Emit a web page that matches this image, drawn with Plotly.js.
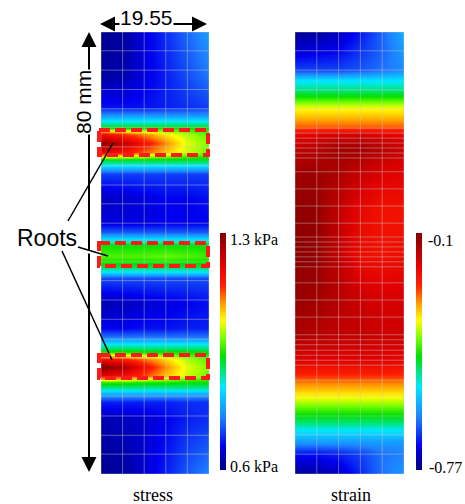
<!DOCTYPE html>
<html><head><meta charset="utf-8">
<script src="https://cdn.plot.ly/plotly-3.0.1.min.js"></script>
<style>html,body{margin:0;padding:0;background:#fff}#chart{width:465px;height:504px}</style>
</head><body><div id="chart"></div>
<script>
// ---- data (mm / kPa / strain) ----
const xNodes = [0, 3.91, 7.82, 11.73, 15.64, 19.55];

const stressY = [0, 5, 10, 13, 14.5, 15.6, 16.6, 17.8, 19.3, 20.8, 22, 23.3, 24.8, 26.5, 31, 35.5, 36.6, 37.8, 39.5, 41.3, 42.5, 43.8, 45.5, 50, 54.3, 55.6, 56.8, 58.2, 60, 61.5, 62.6, 63.8, 65, 66.5, 72, 80];
const stressZ = [
  [0.61, 0.62, 0.65, 0.69, 0.73, 0.76],
  [0.62, 0.63, 0.65, 0.68, 0.71, 0.73],
  [0.63, 0.64, 0.65, 0.67, 0.69, 0.70],
  [0.69, 0.69, 0.69, 0.69, 0.70, 0.70],
  [0.79, 0.79, 0.79, 0.79, 0.79, 0.79],
  [0.88, 0.88, 0.88, 0.88, 0.88, 0.88],
  [0.96, 0.96, 0.95, 0.95, 0.94, 0.94],
  [1.20, 1.17, 1.13, 1.07, 1.02, 0.98],
  [1.30, 1.26, 1.18, 1.10, 1.03, 0.99],
  [1.18, 1.15, 1.11, 1.06, 1.01, 0.97],
  [0.95, 0.95, 0.94, 0.94, 0.94, 0.93],
  [0.86, 0.86, 0.86, 0.86, 0.86, 0.86],
  [0.75, 0.75, 0.75, 0.75, 0.75, 0.75],
  [0.67, 0.67, 0.68, 0.68, 0.69, 0.69],
  [0.63, 0.64, 0.65, 0.66, 0.67, 0.68],
  [0.72, 0.72, 0.72, 0.72, 0.72, 0.72],
  [0.84, 0.84, 0.84, 0.84, 0.84, 0.84],
  [0.93, 0.93, 0.93, 0.93, 0.93, 0.93],
  [0.97, 0.97, 0.97, 0.98, 0.97, 0.96],
  [0.94, 0.94, 0.94, 0.94, 0.94, 0.94],
  [0.84, 0.84, 0.84, 0.84, 0.84, 0.84],
  [0.73, 0.73, 0.73, 0.73, 0.73, 0.73],
  [0.66, 0.66, 0.66, 0.67, 0.67, 0.67],
  [0.64, 0.65, 0.66, 0.67, 0.67, 0.68],
  [0.71, 0.71, 0.71, 0.71, 0.71, 0.71],
  [0.82, 0.82, 0.82, 0.82, 0.82, 0.82],
  [0.92, 0.92, 0.92, 0.92, 0.92, 0.92],
  [1.20, 1.17, 1.12, 1.07, 1.02, 0.98],
  [1.28, 1.24, 1.17, 1.10, 1.03, 0.99],
  [1.18, 1.14, 1.10, 1.05, 1.01, 0.97],
  [0.94, 0.94, 0.94, 0.94, 0.94, 0.94],
  [0.86, 0.86, 0.86, 0.86, 0.86, 0.86],
  [0.77, 0.77, 0.77, 0.77, 0.77, 0.77],
  [0.68, 0.68, 0.68, 0.69, 0.70, 0.71],
  [0.62, 0.63, 0.66, 0.69, 0.72, 0.75],
  [0.61, 0.62, 0.66, 0.70, 0.74, 0.78]
];

const strainY = [0, 3.8, 5.8, 8, 9.2, 11, 13.9, 16.5, 18.3, 20.6, 25, 32, 40, 48, 55, 59, 61.5, 62.8, 64.4, 66.2, 68.2, 69.5, 71.3, 73.1, 76.6, 80];
const strainZ = [
  [-0.76, -0.75, -0.73, -0.68, -0.63, -0.60],
  [-0.69, -0.69, -0.68, -0.66, -0.63, -0.62],
  [-0.60, -0.60, -0.60, -0.60, -0.60, -0.60],
  [-0.535, -0.535, -0.535, -0.535, -0.535, -0.535],
  [-0.49, -0.49, -0.49, -0.49, -0.49, -0.49],
  [-0.44, -0.44, -0.44, -0.44, -0.44, -0.44],
  [-0.35, -0.35, -0.35, -0.35, -0.35, -0.35],
  [-0.29, -0.29, -0.29, -0.29, -0.29, -0.29],
  [-0.24, -0.24, -0.24, -0.24, -0.24, -0.24],
  [-0.19, -0.19, -0.19, -0.19, -0.19, -0.20],
  [-0.14, -0.15, -0.16, -0.16, -0.17, -0.17],
  [-0.12, -0.13, -0.15, -0.17, -0.18, -0.18],
  [-0.11, -0.12, -0.16, -0.21, -0.22, -0.21],
  [-0.11, -0.12, -0.16, -0.20, -0.22, -0.22],
  [-0.13, -0.13, -0.14, -0.16, -0.18, -0.19],
  [-0.16, -0.15, -0.13, -0.13, -0.15, -0.17],
  [-0.20, -0.19, -0.18, -0.18, -0.19, -0.20],
  [-0.27, -0.27, -0.27, -0.27, -0.27, -0.27],
  [-0.31, -0.31, -0.31, -0.31, -0.31, -0.31],
  [-0.35, -0.35, -0.35, -0.35, -0.35, -0.35],
  [-0.44, -0.44, -0.44, -0.44, -0.44, -0.44],
  [-0.49, -0.49, -0.49, -0.49, -0.49, -0.49],
  [-0.54, -0.54, -0.54, -0.54, -0.54, -0.54],
  [-0.66, -0.66, -0.66, -0.65, -0.63, -0.61],
  [-0.72, -0.71, -0.70, -0.67, -0.64, -0.60],
  [-0.76, -0.75, -0.73, -0.69, -0.64, -0.58]
];

const stressMeshY = [0, 3.6, 7.0, 10.5, 14.1, 17.5, 21.0, 24.4, 28.0, 31.5, 35.0, 38.4, 42.0, 45.4, 48.9, 52.3, 55.8, 59.2, 62.7, 66.1, 69.6, 73.1, 76.6, 80];
const strainMeshY = [0, 3.6, 7.1, 10.5, 14.1, 17.0, 19.7, 20.6, 21.5, 22.4, 23.4, 24.3, 25.2, 28.4, 31.5, 34.6, 37.5, 38.4, 39.3, 40.2, 41.1, 42.0, 42.9, 45.4, 48.5, 51.6, 54.7, 57.2, 58.1, 59.0, 59.9, 60.8, 61.7, 62.6, 66.1, 69.5, 73.1, 76.6, 80];

const stressRange = [0.6, 1.3];
const strainRange = [-0.77, -0.1];
const stressLabels = ['1.3 kPa', '0.6 kPa'];
const strainLabels = ['-0.1', '-0.77'];
const panelTitles = ['stress', 'strain'];
const dimWidth = '19.55';
const dimHeight = '80 mm';
const rootLabel = 'Roots';

// ---- styling ----
const W = 465, H = 504;
const px = v => v / W;
const py = v => 1 - v / H;

const cs = [
  [0, '#000080'], [0.1, '#0000ee'], [0.22, '#1e7fff'], [0.35, '#00e8ff'],
  [0.48, '#00e000'], [0.56, '#80ff00'], [0.63, '#ffff00'], [0.7, '#ffa000'],
  [0.78, '#ff2000'], [0.87, '#e00000'], [1, '#800000']
];

function meshTrace(mx, my, xa, ya) {
  const xs = [], ys = [];
  const x0 = mx[0], x1 = mx[mx.length - 1], y0 = my[0], y1 = my[my.length - 1];
  mx.forEach(x => { xs.push(x, x, null); ys.push(y0, y1, null); });
  my.forEach(y => { xs.push(x0, x1, null); ys.push(y, y, null); });
  return { type: 'scatter', mode: 'lines', x: xs, y: ys, xaxis: xa, yaxis: ya,
    line: { color: 'rgba(200,200,200,0.45)', width: 1 }, hoverinfo: 'skip', showlegend: false };
}

const cbCommon = { thickness: 6, thicknessmode: 'pixels', len: 237, lenmode: 'pixels',
  y: py(351.5), yanchor: 'middle', xanchor: 'left', xpad: 0, ypad: 0,
  outlinewidth: 0, showticklabels: false, ticks: '' };

const data = [
  { type: 'heatmap', x: xNodes, y: stressY, z: stressZ, zmin: stressRange[0], zmax: stressRange[1],
    colorscale: cs, zsmooth: 'best', xaxis: 'x', yaxis: 'y',
    colorbar: Object.assign({}, cbCommon, { x: px(220) }) },
  { type: 'heatmap', x: xNodes, y: strainY, z: strainZ, zmin: strainRange[0], zmax: strainRange[1],
    colorscale: cs, zsmooth: 'best', xaxis: 'x2', yaxis: 'y2',
    colorbar: Object.assign({}, cbCommon, { x: px(416) }) },
  meshTrace(xNodes, stressMeshY, 'x', 'y'),
  meshTrace(xNodes, strainMeshY, 'x2', 'y2')
];

const ax = (dom, rng, anchor) => ({ domain: dom, range: rng, visible: false, showgrid: false,
  zeroline: false, fixedrange: true, anchor: anchor });

const serif = 'Liberation Serif, Times New Roman, serif';
const sans = 'Liberation Sans, Arial, sans-serif';

function arrow(tx, ty, dx, dy) {
  return { x: px(tx), y: py(ty), xref: 'paper', yref: 'paper', ax: dx, ay: dy,
    axref: 'pixel', ayref: 'pixel', text: '', showarrow: true, arrowhead: 2,
    arrowsize: 1.5, arrowwidth: 2, arrowcolor: '#000', standoff: 0, startstandoff: 0 };
}
function label(text, x, y, font, opts) {
  return Object.assign({ x: px(x), y: py(y), xref: 'paper', yref: 'paper', text: text,
    showarrow: false, font: font, xanchor: 'center', yanchor: 'middle' }, opts || {});
}

const annotations = [
  arrow(100, 24, 54, 0), arrow(207, 24, -53, 0),
  arrow(89, 32, 0, 220), arrow(89, 472, 0, -220),
  label(dimWidth, 146, 17.5, { family: sans, size: 21, color: '#000' }, { bgcolor: '#fff', borderpad: 0 }),
  label(dimHeight, 84, 102, { family: sans, size: 21, color: '#000' }, { bgcolor: '#fff', borderpad: 0, textangle: -90 }),
  label(rootLabel, 46.5, 238, { family: sans, size: 23, color: '#000' }),
  label(stressLabels[0], 228, 239, { family: serif, size: 16, color: '#000' }, { xanchor: 'left' }),
  label(stressLabels[1], 228, 466, { family: serif, size: 16, color: '#000' }, { xanchor: 'left' }),
  label(strainLabels[0], 426, 240, { family: serif, size: 16, color: '#000' }, { xanchor: 'left' }),
  label(strainLabels[1], 427, 467, { family: serif, size: 16, color: '#000' }, { xanchor: 'left' }),
  label(panelTitles[0], 153, 495, { family: serif, size: 18, color: '#000' }),
  label(panelTitles[1], 351, 495, { family: serif, size: 18, color: '#000' })
];

function seg(x0, y0, x1, y1) {
  return { type: 'line', xref: 'paper', yref: 'paper', x0: px(x0), y0: py(y0), x1: px(x1), y1: py(y1),
    line: { color: '#000', width: 1.5 } };
}
function box(y0, y1) {
  return { type: 'rect', xref: 'paper', yref: 'paper', x0: px(99), x1: px(208), y0: py(y0), y1: py(y1),
    line: { color: '#ff1a1a', width: 4, dash: '11px,5px' }, fillcolor: 'rgba(0,0,0,0)' };
}
const shapes = [
  seg(68, 221, 113, 143), seg(78, 247, 108, 256), seg(62, 251, 112, 360),
  box(130, 155), box(243, 266), box(355, 378)
];

const layout = {
  width: W, height: H, margin: { l: 0, r: 0, t: 0, b: 0 }, showlegend: false,
  paper_bgcolor: '#fff', plot_bgcolor: '#fff',
  xaxis: ax([px(101), px(209)], [0, 19.55], 'y'),
  yaxis: ax([py(474), py(32)], [0, 80], 'x'),
  xaxis2: ax([px(295), px(404)], [0, 19.55], 'y2'),
  yaxis2: ax([py(474), py(32)], [0, 80], 'x2'),
  annotations: annotations, shapes: shapes
};

Plotly.newPlot('chart', data, layout, { displayModeBar: false, staticPlot: true });
</script></body></html>
